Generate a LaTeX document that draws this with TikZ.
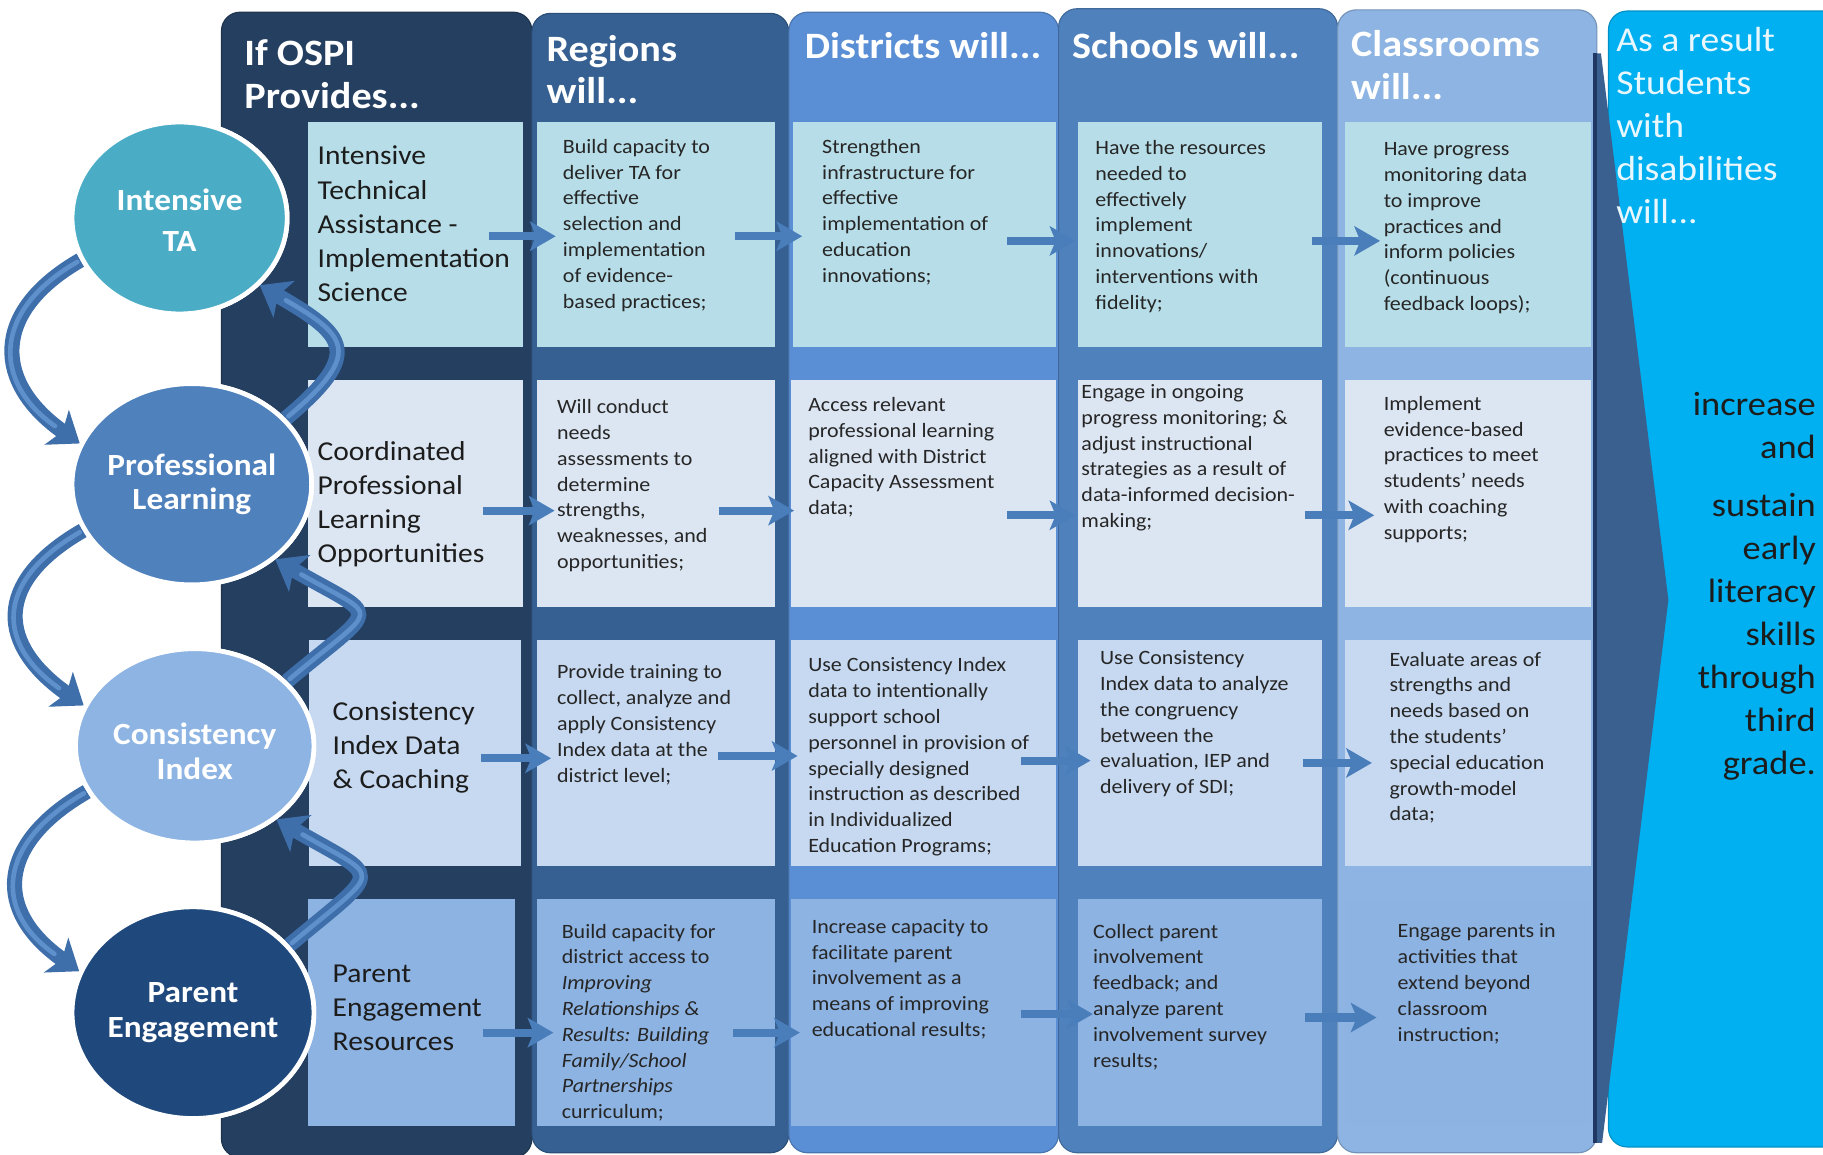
\documentclass[tikz,border=0pt]{standalone}
\usepackage{fontspec}
\setmainfont{Carlito}[FakeStretch=1.08]
\usetikzlibrary{shapes.geometric,arrows.meta}
\definecolor{colA}{HTML}{243F60}
\definecolor{colB}{HTML}{366092}
\definecolor{colC}{HTML}{5A8FD5}
\definecolor{colD}{HTML}{4F81BD}
\definecolor{colE}{HTML}{8DB4E2}
\definecolor{colF}{HTML}{00B0F0}
\definecolor{chev}{HTML}{3A6090}
\definecolor{chevedge}{HTML}{1F3864}
\definecolor{rowA}{HTML}{B7DEE8}
\definecolor{rowB}{HTML}{DCE6F2}
\definecolor{rowC}{HTML}{C6D9F1}
\definecolor{rowD}{HTML}{8DB3E2}
\definecolor{ciTA}{HTML}{4BACC6}
\definecolor{ciPL}{HTML}{4F81BD}
\definecolor{ciCI}{HTML}{8EB4E3}
\definecolor{ciPE}{HTML}{1F497D}
\definecolor{arr}{HTML}{4A7EBB}
\definecolor{carr}{HTML}{3F6FAA}
\definecolor{carrhi}{HTML}{5E90CC}
\definecolor{txt}{HTML}{262626}
\definecolor{txtB}{HTML}{1C1C1C}
\definecolor{lighttxt}{HTML}{E8F7FD}
\begin{document}
\begin{tikzpicture}[x=1pt,y=1pt,
  colbox/.style={rectangle, rounded corners=16pt, anchor=north west, inner sep=0pt, draw=#1!82!black, line width=1pt, fill=#1},
  cellbox/.style={rectangle, anchor=north west, inner sep=0pt, fill=#1},
  ctext/.style={anchor=north west, inner sep=0pt, align=left, text=txt, font=\fontsize{17.5}{22.2}\selectfont},
  firsttext/.style={anchor=north west, inner sep=0pt, align=left, text=txtB, font=\fontsize{23.5}{29.3}\selectfont},
  headtext/.style={anchor=north west, inner sep=0pt, align=left, text=white, font=\bfseries\fontsize{32}{36.5}\selectfont},
  circ/.style={ellipse, draw=white, line width=4pt, inner sep=0pt, fill=#1},
  circtext/.style={inner sep=0pt, align=center, text=white, font=\bfseries\fontsize{26.5}{30}\selectfont},
  harrow/.style={draw=arr, line width=7pt, -{Stealth[length=22pt,width=25pt,inset=5pt]}},
  carrow/.style={draw=carr, line width=13pt, -{Stealth[length=24pt,width=36pt,inset=6pt]}},
  carrowhi/.style={draw=carrhi, line width=4pt, line cap=round, shorten >=26pt, shorten <=3pt}
]
\useasboundingbox (0,0) rectangle (1568,-993);
\clip (0,0) rectangle (1568,-993);
\fill[white] (0,0) rectangle (1568,-993);

% columns
\node[colbox=colA, minimum width=267pt, minimum height=985pt] (c1) at (190,-10) {};
\node[colbox=colB, minimum width=221pt, minimum height=980pt] (c2) at (457,-11) {};
\node[colbox=colC, minimum width=232pt, minimum height=981pt] (c3) at (678,-10) {};
\node[colbox=colD, minimum width=240pt, minimum height=984pt] (c4) at (910,-7) {};
\node[colbox=colE, minimum width=223pt, minimum height=983pt] (c5) at (1150,-8) {};
\node[colbox=colF, minimum width=260pt, minimum height=977pt] (c6) at (1383,-9) {};

% chevron
\fill[chev] (1371,-46) -- (1377,-46) -- (1435,-516) -- (1378,-983) -- (1371,-983) -- cycle;
\draw[chevedge, line width=3pt] (1372,-46) -- (1372,-983);

% headers
\node[headtext] (h1) at (210,-34) {If OSPI\\Provides...};
\node[headtext] (h2) at (470,-30) {Regions\\will...};
\node[headtext] (h3) at (692,-28) {Districts will...};
\node[headtext] (h4) at (922,-28) {Schools will...};
\node[headtext] (h5) at (1162,-26) {Classrooms\\will...};
\node[anchor=north west, inner sep=0pt, align=left, text=lighttxt, font=\fontsize{30}{37}\selectfont] (h6) at (1390,-23) {As a result\\Students\\with\\disabilities\\will...};

% cell boxes
\node[cellbox=rowA, minimum width=185pt, minimum height=193pt] (b11) at (265,-105) {};
\node[cellbox=rowA, minimum width=204pt, minimum height=193pt] (b12) at (462,-105) {};
\node[cellbox=rowA, minimum width=226pt, minimum height=193pt] (b13) at (682,-105) {};
\node[cellbox=rowA, minimum width=210pt, minimum height=193pt] (b14) at (927,-105) {};
\node[cellbox=rowA, minimum width=211pt, minimum height=193pt] (b15) at (1157,-105) {};

\node[cellbox=rowB, minimum width=185pt, minimum height=195pt] (b21) at (265,-327) {};
\node[cellbox=rowB, minimum width=204pt, minimum height=195pt] (b22) at (462,-327) {};
\node[cellbox=rowB, minimum width=228pt, minimum height=195pt] (b23) at (680,-327) {};
\node[cellbox=rowB, minimum width=210pt, minimum height=195pt] (b24) at (927,-327) {};
\node[cellbox=rowB, minimum width=211pt, minimum height=195pt] (b25) at (1157,-327) {};

\node[cellbox=rowC, minimum width=182pt, minimum height=195pt] (b31) at (266,-550) {};
\node[cellbox=rowC, minimum width=204pt, minimum height=195pt] (b32) at (462,-550) {};
\node[cellbox=rowC, minimum width=228pt, minimum height=195pt] (b33) at (680,-550) {};
\node[cellbox=rowC, minimum width=210pt, minimum height=195pt] (b34) at (927,-550) {};
\node[cellbox=rowC, minimum width=211pt, minimum height=195pt] (b35) at (1157,-550) {};

\node[cellbox=rowD, minimum width=178pt, minimum height=195pt] (b41) at (265,-773) {};
\node[cellbox=rowD, minimum width=204pt, minimum height=195pt] (b42) at (462,-773) {};
\node[cellbox=rowD, minimum width=228pt, minimum height=195pt] (b43) at (680,-773) {};
\node[cellbox=rowD, minimum width=210pt, minimum height=195pt] (b44) at (927,-773) {};
\node[cellbox=rowD, minimum width=211pt, minimum height=195pt] (b45) at (1157,-773) {};

% cell texts
\node[firsttext] (t11) at (273,-125.5) {Intensive\\Technical\\Assistance -\\Implementation\\Science};
\node[ctext] (t12) at (484,-119.5) {Build capacity to\\deliver TA for\\effective\\selection and\\implementation\\of evidence-\\based practices;};
\node[ctext] (t13) at (707,-119.5) {Strengthen\\infrastructure for\\effective\\implementation of\\education\\innovations;};
\node[ctext] (t14) at (942,-120.5) {Have the resources\\needed to\\effectively\\implement\\innovations/\\interventions with\\fidelity;};
\node[ctext] (t15) at (1190,-122.5) {Have progress\\monitoring data\\to improve\\practices and\\inform policies\\(continuous\\feedback loops);};

\node[firsttext] (t21) at (273,-379.5) {Coordinated\\Professional\\Learning\\Opportunities};
\node[ctext] (t22) at (479,-343.5) {Will conduct\\needs\\assessments to\\determine\\strengths,\\weaknesses, and\\opportunities;};
\node[ctext] (t23) at (695,-341.5) {Access relevant\\professional learning\\aligned with District\\Capacity Assessment\\data;};
\node[ctext] (t24) at (930,-330.5) {Engage in ongoing\\progress monitoring; \&\\adjust instructional\\strategies as a result of\\data-informed decision-\\making;};
\node[ctext] (t25) at (1190,-340.5) {Implement\\evidence-based\\practices to meet\\students’ needs\\with coaching\\supports;};

\node[firsttext] (t31) at (286,-603.5) {Consistency\\Index Data\\\& Coaching};
\node[ctext] (t32) at (479,-571.5) {Provide training to\\collect, analyze and\\apply Consistency\\Index data at the\\district level;};
\node[ctext] (t33) at (695,-565.5) {Use Consistency Index\\data to intentionally\\support school\\personnel in provision of\\specially designed\\instruction as described\\in Individualized\\Education Programs;};
\node[ctext] (t34) at (946,-559.5) {Use Consistency\\Index data to analyze\\the congruency\\between the\\evaluation, IEP and\\delivery of SDI;};
\node[ctext] (t35) at (1195,-560.5) {Evaluate areas of\\strengths and\\needs based on\\the students’\\special education\\growth-model\\data;};

\node[firsttext] (t41) at (286,-829.5) {Parent\\Engagement\\Resources};
\node[ctext] (t42) at (483,-794.5) {Build capacity for\\district access to\\\textit{Improving}\\\textit{Relationships \&}\\\textit{Results: Building}\\\textit{Family/School}\\\textit{Partnerships}\\curriculum;};
\node[ctext] (t43) at (698,-790.5) {Increase capacity to\\facilitate parent\\involvement as a\\means of improving\\educational results;};
\node[ctext] (t44) at (940,-794.5) {Collect parent\\involvement\\feedback; and\\analyze parent\\involvement survey\\results;};
\node[ctext] (t45) at (1202,-794.5) {Engage parents in\\activities that\\extend beyond\\classroom\\instruction;};

% result text
\node[anchor=north east, inner sep=0pt, align=right, text=txtB, font=\fontsize{29}{37}\selectfont] (res) at (1562,-337) {increase\\and\\[13pt]sustain\\early\\literacy\\skills\\through\\third\\grade.};

% straight arrows
\draw[harrow] ([shift={(-30,-1.5)}]b11.east) -- ([shift={(16,-1.5)}]b12.west);
\draw[harrow] ([shift={(-34,-1.5)}]b12.east) -- ([shift={(8,-1.5)}]b13.west);
\draw[harrow] ([shift={(-42,-5.5)}]b13.east) -- ([shift={(-2,-5.5)}]b14.west);
\draw[harrow] ([shift={(-9,-5.5)}]b14.east) -- ([shift={(30,-5.5)}]b15.west);

\draw[harrow] ([shift={(-35,-14.5)}]b21.east) -- ([shift={(15,-14.5)}]b22.west);
\draw[harrow] ([shift={(-48,-14.5)}]b22.east) -- ([shift={(3,-14.5)}]b23.west);
\draw[harrow] ([shift={(-42,-18.5)}]b23.east) -- ([shift={(-2,-18.5)}]b24.west);
\draw[harrow] ([shift={(-15,-18.5)}]b24.east) -- ([shift={(25,-18.5)}]b25.west);

\draw[harrow] ([shift={(-35,-4.5)}]b31.east) -- ([shift={(12,-4.5)}]b32.west);
\draw[harrow] ([shift={(-49,-2.5)}]b32.east) -- ([shift={(6,-2.5)}]b33.west);
\draw[harrow] ([shift={(-30,-6.5)}]b33.east) -- ([shift={(11,-6.5)}]b34.west);
\draw[harrow] ([shift={(-17,-8.5)}]b34.east) -- ([shift={(23,-8.5)}]b35.west);

\draw[harrow] ([shift={(-28,-17.5)}]b41.east) -- ([shift={(14,-17.5)}]b42.west);
\draw[harrow] ([shift={(-36,-17.5)}]b42.east) -- ([shift={(8,-17.5)}]b43.west);
\draw[harrow] ([shift={(-30,-1.5)}]b43.east) -- ([shift={(13,-1.5)}]b44.west);
\draw[harrow] ([shift={(-15,-4.5)}]b44.east) -- ([shift={(27,-4.5)}]b45.west);

% circle shapes (placed first for anchors)
\path (154.5,-187.5) node[circ=ciTA, minimum width=185pt, minimum height=165pt] (ta) {};
\path (165,-416.5) node[circ=ciPL, minimum width=206pt, minimum height=173pt] (pl) {};
\path (167.5,-641.5) node[circ=ciCI, minimum width=205pt, minimum height=167pt] (ci) {};
\path (166,-871) node[circ=ciPE, minimum width=208pt, minimum height=182pt] (pe) {};

% curved arrows
\draw[carrow] (ta.203) .. controls +(210:90) and +(145:90) .. (pl.160);
\draw[carrow] (pl.203) .. controls +(210:90) and +(145:90) .. (ci.160);
\draw[carrow] (ci.203) .. controls +(210:90) and +(145:90) .. (pe.160);
\draw[carrow] (pl.35) .. controls +(40:87) and +(-30:87) .. (ta.-40);
\draw[carrow] (ci.35) .. controls +(40:106) and +(-30:106) .. (pl.-42);
\draw[carrow] (pe.35) .. controls +(40:106) and +(-30:106) .. (ci.-42);
\draw[carrowhi] (ta.203) .. controls +(210:90) and +(145:90) .. (pl.160);
\draw[carrowhi] (pl.203) .. controls +(210:90) and +(145:90) .. (ci.160);
\draw[carrowhi] (ci.203) .. controls +(210:90) and +(145:90) .. (pe.160);
\draw[carrowhi] (pl.35) .. controls +(40:87) and +(-30:87) .. (ta.-40);
\draw[carrowhi] (ci.35) .. controls +(40:106) and +(-30:106) .. (pl.-42);
\draw[carrowhi] (pe.35) .. controls +(40:106) and +(-30:106) .. (ci.-42);

% circles on top
\node[circ=ciTA, minimum width=185pt, minimum height=165pt] (ta2) at (ta) {};
\node[circ=ciPL, minimum width=206pt, minimum height=173pt] (pl2) at (pl) {};
\node[circ=ciCI, minimum width=205pt, minimum height=167pt] (ci2) at (ci) {};
\node[circ=ciPE, minimum width=208pt, minimum height=182pt] (pe2) at (pe) {};
\node[circtext, font=\bfseries\fontsize{26.5}{35}\selectfont] (tat) at ([yshift=-2pt]ta) {Intensive\\TA};
\node[circtext] (plt) at (pl) {Professional\\Learning};
\node[circtext] (cit) at ([yshift=-5pt]ci) {Consistency\\Index};
\node[circtext] (pet) at (pe) {Parent\\Engagement};
\end{tikzpicture}
\end{document}
